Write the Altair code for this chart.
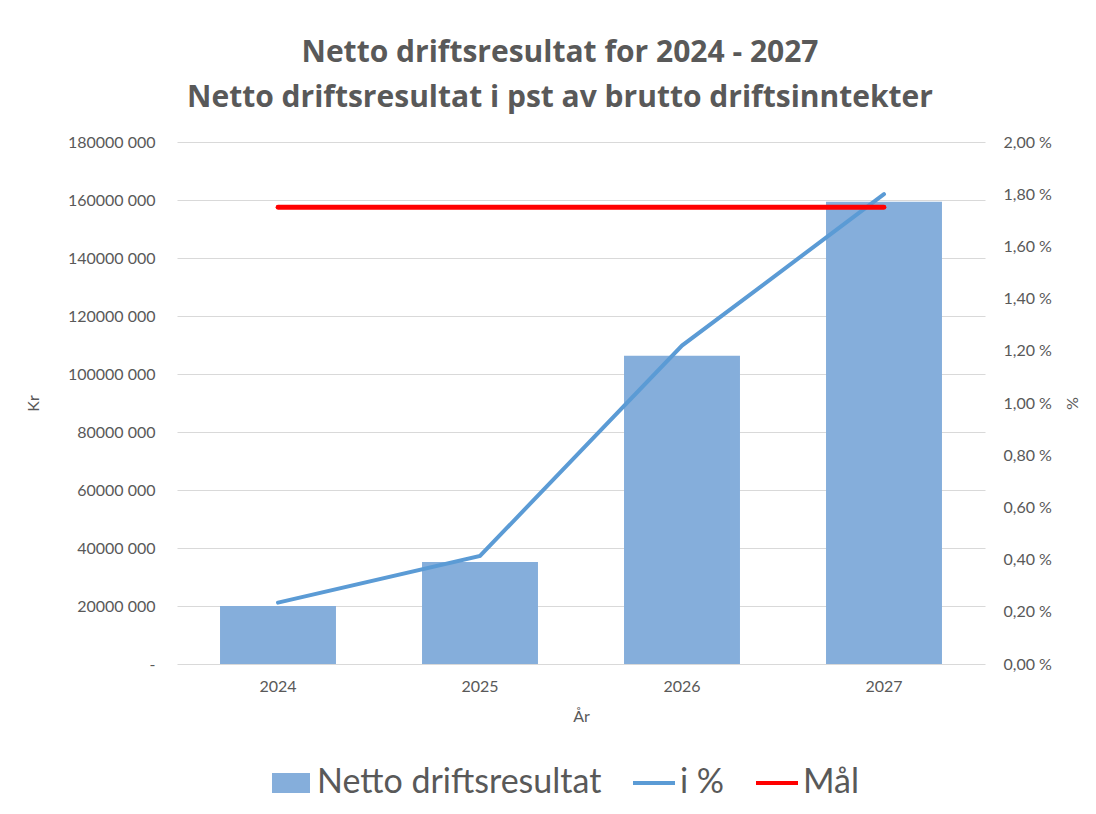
import altair as alt
import pandas as pd

years = ["2024", "2025", "2026", "2027"]
netto = [20000000, 35200000, 106300000, 159400000]
pct = [0.235, 0.414, 1.22, 1.80]
maal = [1.75, 1.75, 1.75, 1.75]
series = ["Netto driftsresultat", "i %", "Mål"]
kr_ticks = [0, 20000000, 40000000, 60000000, 80000000, 100000000, 120000000, 140000000, 160000000, 180000000]
pct_ticks = [0.0, 0.2, 0.4, 0.6, 0.8, 1.0, 1.2, 1.4, 1.6, 1.8, 2.0]
title_lines = ["Netto driftsresultat for 2024 - 2027", "Netto driftsresultat i pst av brutto driftsinntekter"]

BAR = "#85AEDB"
BLUE = "#5B9BD5"
RED = "#FF0000"
TXT = "#595959"
FONT = "Lato"

bars_df = pd.DataFrame({"year": years, "kr": netto})
lines_df = pd.DataFrame({
    "year": years + years,
    "val": pct + maal,
    "series": ["i %"] * 4 + ["Mål"] * 4,
})
legend_df = pd.DataFrame({"series": series, "val": [None, None, None]})

x_enc = alt.X("year:N", title="År", sort=years,
              scale=alt.Scale(paddingInner=0.426, paddingOuter=0.213),
              axis=alt.Axis(labelAngle=0, labelFont=FONT, labelFontSize=16, labelColor=TXT,
                            labelPadding=14, titleFont=FONT, titleFontSize=16, titleColor=TXT,
                            titleFontWeight="normal", titlePadding=14, domain=False, ticks=False))

bars = alt.Chart(bars_df).mark_bar(color=BAR).encode(
    x=x_enc,
    y=alt.Y("kr:Q", title="Kr", scale=alt.Scale(domain=[0, 180000000], nice=False),
            axis=alt.Axis(values=kr_ticks, orient="left",
                          labelExpr="datum.value == 0 ? '-' : floor(datum.value/1000) + ' 000'",
                          labelFont=FONT, labelFontSize=16, labelColor=TXT, labelPadding=22,
                          titleFont=FONT, titleFontSize=16, titleColor=TXT, titleFontWeight="normal",
                          titlePadding=26, domain=False, ticks=False, grid=True,
                          gridColor="#D9D9D9", gridWidth=1)),
)

line_scale = alt.Scale(domain=["i %", "Mål"], range=[BLUE, RED])
width_scale = alt.Scale(domain=["i %", "Mål"], range=[4, 4.8])
legend_scale = alt.Scale(domain=series, range=[BAR, BLUE, RED])

# legend shapes (unit square -1..1 scaled by sqrt(size)/2)
sq = "M-0.905,-0.381H0.905M-0.905,-0.19H0.905M-0.905,0H0.905M-0.905,0.19H0.905M-0.905,0.381H0.905"
ln = "M-1,0H1"

lines = alt.Chart(lines_df).mark_line(strokeCap="round").encode(
    x=alt.X("year:N", sort=years),
    y=alt.Y("val:Q", title="%", scale=alt.Scale(domain=[0, 2], nice=False),
            axis=alt.Axis(values=pct_ticks, orient="right",
                          labelExpr="replace(format(datum.value, '.2f'), '.', ',') + ' %'",
                          labelFont=FONT, labelFontSize=16, labelColor=TXT, labelPadding=18,
                          titleFont=FONT, titleFontSize=16, titleColor=TXT, titleFontWeight="normal",
                          titlePadding=12, domain=False, ticks=False, grid=False)),
    color=alt.Color("series:N", scale=line_scale, legend=None),
    strokeWidth=alt.StrokeWidth("series:N", scale=width_scale, legend=None),
    detail="series:N",
)

leg = alt.Legend(orient="none", legendX=91, legendY=618, direction="horizontal", title=None,
                 labelFont=FONT, labelFontSize=34, labelColor=TXT, labelOffset=3,
                 symbolSize=1764, symbolStrokeWidth=4, symbolOpacity=1, columnPadding=23,
                 labelLimit=600)

legend_pts = alt.Chart(legend_df).mark_point(filled=False, opacity=1).encode(
    y=alt.Y("val:Q", axis=None),
    stroke=alt.Stroke("series:N", scale=legend_scale, legend=leg),
    shape=alt.Shape("series:N", scale=alt.Scale(domain=series, range=[sq, ln, ln]), legend=leg),
)

chart = alt.layer(bars, lines, legend_pts).resolve_scale(
    y="independent", color="independent", stroke="independent", shape="independent"
).properties(
    width=808, height=522,
    autosize=alt.AutoSizeParams(type="none"),
    padding={"left": 169, "top": 134, "right": 100, "bottom": 140},
    background="white",
    title=alt.TitleParams(text=title_lines, font="Open Sans", fontSize=30, fontWeight="bold", color=TXT,
                          anchor="middle", dx=-21, offset=21, lineHeight=45),
).configure_view(stroke=None)

chart.save("out.html", embed_options={"renderer": "svg", "actions": False})
